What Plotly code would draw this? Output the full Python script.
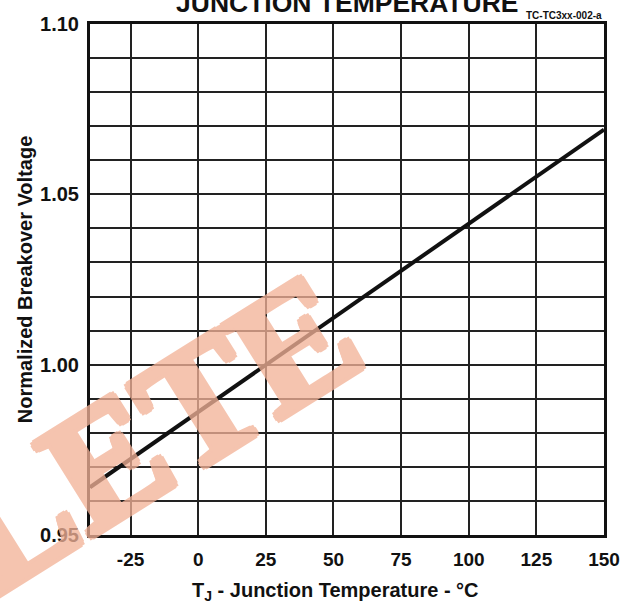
import plotly.graph_objects as go

# ---- data ----
temps_c = [-40, 25, 150]
norm_vbo = [0.964, 1.000, 1.069]

x_tickvals = [-25, 0, 25, 50, 75, 100, 125, 150]
x_ticktext = ["-25", "0", "25", "50", "75", "100", "125", "150"]
y_gridvals = [0.95, 0.96, 0.97, 0.98, 0.99, 1.00, 1.01, 1.02, 1.03, 1.04,
              1.05, 1.06, 1.07, 1.08, 1.09, 1.10]
y_ticktext = ["0.95", "", "", "", "", "1.00", "", "", "", "",
              "1.05", "", "", "", "", "1.10"]

title_text = "JUNCTION TEMPERATURE"
fig_id = "TC-TC3xx-002-a"
x_title = "T<sub>J</sub> - Junction Temperature - °C"
y_title = "Normalized Breakover Voltage"
watermark = "LETE"

FONT = "Liberation Sans, Arial, sans-serif"
W, H = 636, 604
ML, MR, MT, MB = 90, 32, 24, 69
PW, PH = W - ML - MR, H - MT - MB

fig = go.Figure()
fig.add_trace(go.Scatter(
    x=temps_c, y=norm_vbo, mode="lines",
    line=dict(color="#111111", width=4),
    showlegend=False, hoverinfo="skip",
))

fig.update_layout(
    width=W, height=H,
    margin=dict(l=ML, r=MR, t=MT, b=MB),
    paper_bgcolor="white", plot_bgcolor="white",
    font=dict(family=FONT, color="#111111"),
    xaxis=dict(
        range=[-40, 150], tickvals=x_tickvals, ticktext=x_ticktext,
        showgrid=True, gridcolor="#222222", gridwidth=1.6,
        showline=True, linecolor="#111111", linewidth=3, mirror=True,
        ticks="", ticklabelstandoff=5, zeroline=False,
        tickfont=dict(family=FONT, size=19, color="#111111", weight="bold"),
    ),
    yaxis=dict(
        range=[0.95, 1.10], tickvals=y_gridvals, ticktext=y_ticktext,
        showgrid=True, gridcolor="#222222", gridwidth=1.6,
        showline=True, linecolor="#111111", linewidth=3, mirror=True,
        ticks="", ticklabelstandoff=4, zeroline=False,
        tickfont=dict(family=FONT, size=20, color="#111111", weight="bold"),
        title=dict(text=y_title, standoff=3,
                   font=dict(family=FONT, size=20, color="#111111", weight="bold")),
    ),
)

fig.add_annotation(
    text=title_text, xref="paper", yref="paper", x=0.5, y=1,
    xanchor="center", yanchor="bottom", yshift=4, showarrow=False,
    font=dict(family=FONT, size=26.5, color="#111111", weight="bold"),
)
fig.add_annotation(
    text=fig_id, xref="paper", yref="paper", x=1, y=1,
    xanchor="right", yanchor="bottom", yshift=1, showarrow=False,
    font=dict(family=FONT, size=10, color="#111111", weight="bold"),
)
fig.add_annotation(
    text=x_title, xref="paper", yref="paper", x=0.477, y=0,
    xanchor="center", yanchor="top", yshift=-42, showarrow=False,
    font=dict(family=FONT, size=20, color="#111111", weight="bold"),
)

# watermark, on top of the chart, semi-transparent salmon (thickened strokes)
wm_col = "rgb(243,178,151)"
offs = [(4, 0), (-4, 0), (0, 4), (0, -4), (3, 3), (-3, -3), (3, -3), (-3, 3)]
wm_shadow = ", ".join(f"{dx}px {dy}px 0 {wm_col}" for dx, dy in offs)
wm_cx, wm_cy = 153, 432  # pixel centre
fig.add_annotation(
    text=watermark, xref="paper", yref="paper",
    x=(wm_cx - ML) / PW, y=(H - MB - wm_cy) / PH,
    xanchor="center", yanchor="middle", showarrow=False, textangle=-32,
    opacity=0.76,
    font=dict(family="Liberation Serif, Times New Roman, serif", size=166,
              color=wm_col, weight="bold", shadow=wm_shadow),
)

fig.write_html("out.html")
